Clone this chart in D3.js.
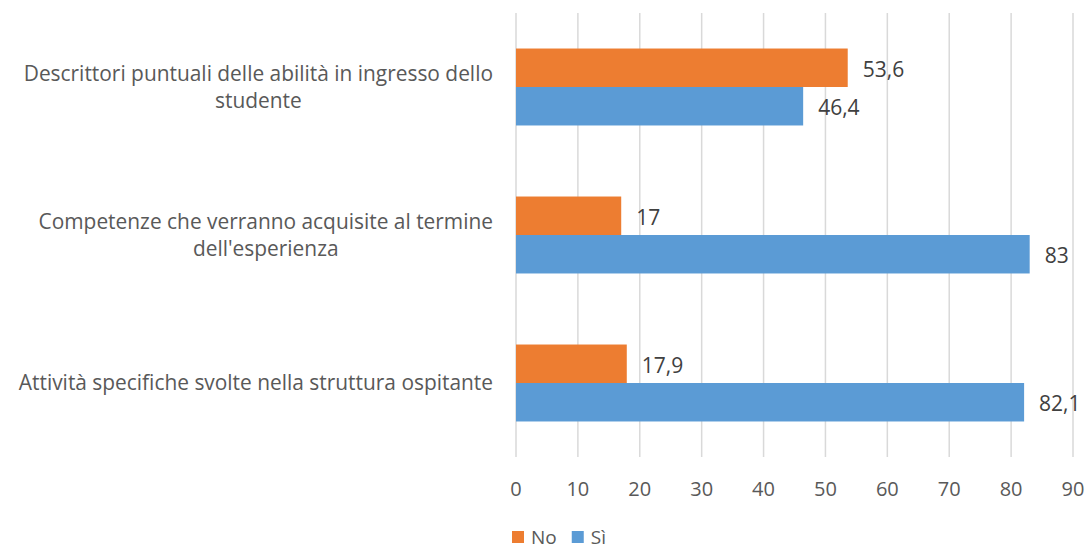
<!DOCTYPE html>
<html>
<head>
<meta charset="utf-8">
<script src="https://cdn.jsdelivr.net/npm/d3@7"></script>
<style>
  body { margin: 0; background: #fff; }
  svg { display: block; font-family: "Open Sans", Lato, sans-serif; }
</style>
</head>
<body>
<svg id="chart" width="1089" height="551"></svg>
<script>
var categories = [
    ["Descrittori puntuali delle abilità in ingresso dello", "studente"],
    ["Competenze che verranno acquisite al termine", "dell'esperienza"],
    ["Attività specifiche svolte nella struttura ospitante"]
];
var seriesNames = ["No", "Sì"];
var seriesColors = ["#ED7D31", "#5B9BD5"];
var noValues = [53.6, 17, 17.9];
var siValues = [46.4, 83, 82.1];
var xTicks = [0, 10, 20, 30, 40, 50, 60, 70, 80, 90];

var margin = { top: 13, left: 516 };
var width = 1073 - 516,
    height = 457 - 13;

var data = categories.map(function(c, i) {
    return { idx: i, lines: c, values: [noValues[i], siValues[i]] };
});

var chart = d3.select("#chart");
var g = chart.append("g")
    .attr("transform", "translate(" + margin.left + "," + margin.top + ")");

var x = d3.scaleLinear().domain([0, 90]).range([0, width]);
var y = d3.scaleBand().domain(d3.range(categories.length)).range([0, height]);
var inner = d3.scaleBand().domain(d3.range(seriesNames.length))
    .range([y.bandwidth() * 0.24, y.bandwidth() * 0.76]);

// gridlines
g.selectAll(".grid")
    .data(xTicks)
    .enter().append("line")
    .attr("class", "grid")
    .attr("x1", function(d) { return x(d); })
    .attr("x2", function(d) { return x(d); })
    .attr("y1", 0)
    .attr("y2", height)
    .style("stroke", "#d9d9d9")
    .style("stroke-width", 1.5);

// tick labels
g.selectAll(".tick-label")
    .data(xTicks)
    .enter().append("text")
    .attr("class", "tick-label")
    .attr("x", function(d) { return x(d); })
    .attr("y", height + 31)
    .attr("text-anchor", "middle")
    .attr("dominant-baseline", "central")
    .style("font-size", "20px")
    .style("fill", "#595959")
    .text(function(d) { return d; });

// bars
var groups = g.selectAll(".cat")
    .data(data)
    .enter().append("g")
    .attr("class", "cat")
    .attr("transform", function(d) { return "translate(0," + y(d.idx) + ")"; });

groups.selectAll("rect")
    .data(function(d) { return d.values; })
    .enter().append("rect")
    .attr("x", x(0))
    .attr("y", function(d, i) { return inner(i); })
    .attr("width", function(d) { return x(d) - x(0); })
    .attr("height", inner.bandwidth())
    .style("fill", function(d, i) { return seriesColors[i]; });

groups.selectAll(".val")
    .data(function(d) { return d.values; })
    .enter().append("text")
    .attr("class", "val")
    .attr("x", function(d) { return x(d) + 15; })
    .attr("y", function(d, i) { return inner(i) + inner.bandwidth() / 2 + 1; })
    .attr("dominant-baseline", "central")
    .style("font-size", "21px")
    .style("fill", "#404040")
    .text(function(d) { return String(d).replace(".", ","); });

// category labels: block right aligned, lines centered inside the block
var labelRight = 493;
var lineH = 27;
data.forEach(function(d) {
    var lg = chart.append("g");
    var texts = lg.selectAll("text")
        .data(d.lines)
        .enter().append("text")
        .attr("y", function(t, i) {
            return margin.top + y(d.idx) + y.bandwidth() / 2 + (i - (d.lines.length - 1) / 2) * lineH - 1;
        })
        .attr("text-anchor", "middle")
        .attr("dominant-baseline", "central")
        .style("font-size", "20.9px")
        .style("fill", "#595959")
        .text(function(t) { return t; });
    var maxW = 0;
    texts.each(function() { maxW = Math.max(maxW, this.getComputedTextLength()); });
    texts.attr("x", labelRight - maxW / 2);
});

// legend
var legend = chart.append("g").attr("transform", "translate(512,537)");
var lx = 0;
seriesNames.forEach(function(name, i) {
    legend.append("rect")
        .attr("x", lx)
        .attr("y", -6)
        .attr("width", 12)
        .attr("height", 12)
        .style("fill", seriesColors[i]);
    var t = legend.append("text")
        .attr("x", lx + 19)
        .attr("y", 0)
        .attr("dominant-baseline", "central")
        .style("font-size", "19px")
        .style("fill", "#595959")
        .text(name);
    lx += 19 + t.node().getComputedTextLength() + 15;
});
</script>
</body>
</html>
